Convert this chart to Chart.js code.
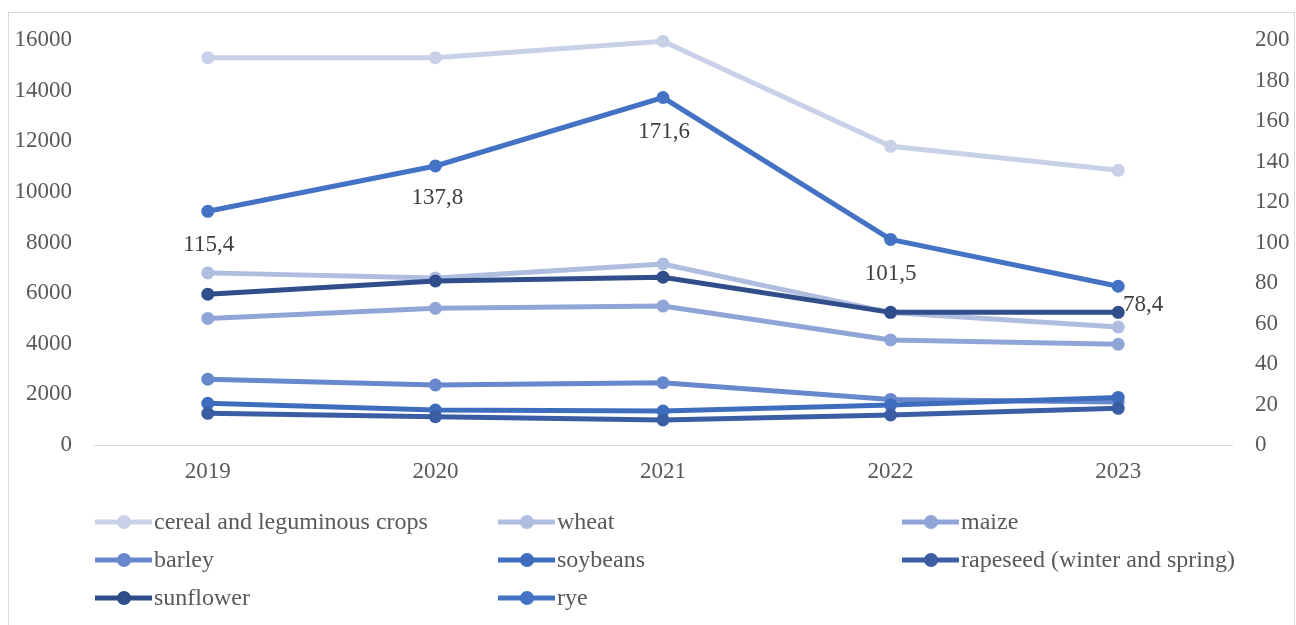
<!DOCTYPE html>
<html>
<head>
<meta charset="utf-8">
<script src="https://cdn.jsdelivr.net/npm/chart.js@4/dist/chart.umd.min.js"></script>
<style>
  html, body { margin: 0; padding: 0; background: #fff; overflow: hidden; }
  .frame { position: absolute; left: 8px; top: 12px; width: 1285px; height: 620px; border: 1px solid #D9D9D9; }
  .frame canvas { position: absolute; left: 0; top: 0; }
</style>
</head>
<body>
<div class="frame"><canvas id="chart" width="1285" height="612"></canvas></div>
<script>
const YEARS = ['2019', '2020', '2021', '2022', '2023'];
const SERIES_NAMES = ['cereal and leguminous crops', 'wheat', 'maize', 'barley', 'soybeans', 'rapeseed (winter and spring)', 'sunflower', 'rye'];
const CEREAL = [15300, 15300, 15950, 11800, 10850];
const WHEAT = [6800, 6600, 7150, 5230, 4660];
const MAIZE = [5000, 5400, 5490, 4150, 3980];
const BARLEY = [2600, 2370, 2460, 1800, 1700];
const SOYBEANS = [1650, 1380, 1340, 1580, 1880];
const RAPESEED = [1250, 1120, 990, 1185, 1450];
const SUNFLOWER = [5960, 6480, 6630, 5240, 5240];
const RYE = [115.4, 137.8, 171.6, 101.5, 78.4];   // right axis
const LEFT_TICKS = [0, 2000, 4000, 6000, 8000, 10000, 12000, 14000, 16000];
const RIGHT_TICKS = [0, 20, 40, 60, 80, 100, 120, 140, 160, 180, 200];

const COLORS = ['#C9D1E9', '#AFBDE1', '#8FA5D7', '#6788CC', '#3F6DBE', '#3A5DA3', '#2F4E8A', '#4472C4'];
const TEXT = '#595959';
const FONT = 'Liberation Serif';
const FS = 23;
// label offsets (px) for the rye values, relative to each point
const RYE_LABEL_SHIFT = [[1, 34], [2, 32], [1, 34], [0, 34], [25, 19]];

const seriesData = [CEREAL, WHEAT, MAIZE, BARLEY, SOYBEANS, RAPESEED, SUNFLOWER, RYE];

const datasets = SERIES_NAMES.map((name, i) => ({
  label: name,
  data: seriesData[i],
  yAxisID: i === 7 ? 'y1' : 'y',
  borderColor: COLORS[i],
  backgroundColor: COLORS[i],
  borderWidth: 5,
  pointRadius: 6.5,
  pointBorderWidth: 0,
  pointHoverRadius: 6.5,
  tension: 0,
  clip: false,
  order: 7 - i,
}));

const ryeLabels = {
  id: 'ryeLabels',
  afterDatasetsDraw(chart) {
    const ctx = chart.ctx;
    const meta = chart.getDatasetMeta(7);
    ctx.save();
    ctx.font = `${FS}px "${FONT}"`;
    ctx.fillStyle = '#404040';
    ctx.textAlign = 'center';
    ctx.textBaseline = 'middle';
    meta.data.forEach((pt, i) => {
      const txt = RYE[i].toFixed(1).replace('.', ',');
      ctx.fillText(txt, pt.x + RYE_LABEL_SHIFT[i][0], pt.y + RYE_LABEL_SHIFT[i][1]);
    });
    ctx.restore();
  }
};

// three-column legend under the plot
const gridLegend = {
  id: 'gridLegend',
  afterDraw(chart) {
    const ctx = chart.ctx;
    const colX = [86, 489, 893];
    const rowY = [509, 547, 585];
    ctx.save();
    ctx.font = `24px "${FONT}"`;
    ctx.textBaseline = 'middle';
    ctx.textAlign = 'left';
    chart.data.datasets.forEach((ds, i) => {
      const x = colX[i % 3];
      const y = rowY[Math.floor(i / 3)];
      ctx.strokeStyle = ds.borderColor;
      ctx.lineWidth = 5;
      ctx.beginPath();
      ctx.moveTo(x, y);
      ctx.lineTo(x + 57, y);
      ctx.stroke();
      ctx.fillStyle = ds.borderColor;
      ctx.beginPath();
      ctx.arc(x + 29, y, 7, 0, Math.PI * 2);
      ctx.fill();
      ctx.fillStyle = TEXT;
      ctx.fillText(ds.label, x + 59, y + 1);
    });
    ctx.restore();
  }
};

const tickFont = { family: FONT, size: FS };

new Chart(document.getElementById('chart'), {
  type: 'line',
  data: { labels: YEARS, datasets },
  plugins: [ryeLabels, gridLegend],
  options: {
    responsive: false,
    animation: false,
    layout: { padding: { top: 27, bottom: 135, left: 0, right: 0 } },
    plugins: { legend: { display: false }, tooltip: { enabled: false } },
    scales: {
      x: {
        offset: true,
        grid: { display: false, drawTicks: false },
        border: { display: true, color: '#D9D9D9', width: 1 },
        ticks: { color: TEXT, font: tickFont, padding: 13 },
        afterFit(s) { s.height = 45; },
      },
      y: {
        position: 'left',
        min: 0, max: 16000,
        grid: { display: false, drawTicks: false },
        border: { display: false },
        afterBuildTicks(s) { s.ticks = LEFT_TICKS.map(v => ({ value: v })); },
        ticks: { color: TEXT, font: tickFont, padding: 22, callback: v => String(v) },
        afterFit(s) { s.width = 85; s.paddingTop = 0; s.paddingBottom = 0; },
      },
      y1: {
        position: 'right',
        min: 0, max: 200,
        grid: { display: false, drawTicks: false },
        border: { display: false },
        afterBuildTicks(s) { s.ticks = RIGHT_TICKS.map(v => ({ value: v })); },
        ticks: { color: TEXT, font: tickFont, padding: 23, callback: v => String(v) },
        afterFit(s) { s.width = 62; s.paddingTop = 0; s.paddingBottom = 0; },
      },
    },
  },
});
</script>
</body>
</html>
